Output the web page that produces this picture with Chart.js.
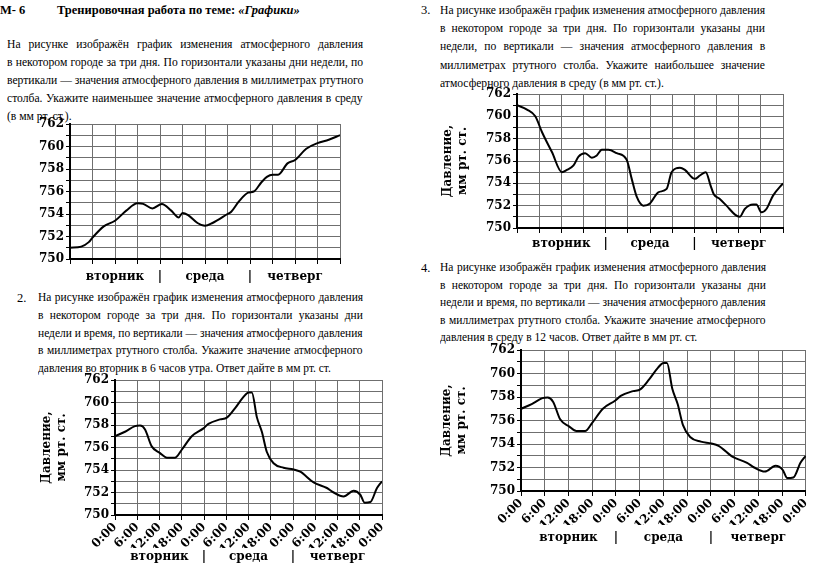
<!DOCTYPE html>
<html>
<head>
<meta charset="utf-8">
<script src="https://cdn.jsdelivr.net/npm/chart.js@4/dist/chart.umd.min.js"></script>
<style>
  body { margin: 0; width: 816px; height: 565px; position: relative; overflow: hidden; background: #fff; color: #000; font-family: 'Liberation Serif', serif; }
  .hdr { position: absolute; top: 3px; font-size: 12.5px; font-weight: bold; line-height: 14px; }
  .num { position: absolute; font-size: 12.5px; line-height: 18px; }
  .par { position: absolute; font-size: 12.5px; }
  .par div { white-space: nowrap; width: max-content; transform-origin: 0 0; }
  canvas { position: absolute; }
</style>
</head>
<body>

<div class="hdr" style="left:0">М- 6</div>
<div class="hdr" style="left:57px">Тренировочная работа по теме: <i>«Графики»</i></div>

<div class="par" style="left:7px; top:35px; width:356px; line-height:18px">
  <div>На рисунке изображён график изменения атмосферного давления</div>
  <div>в некотором городе за три дня. По горизонтали указаны дни недели, по</div>
  <div>вертикали — значения атмосферного давления в миллиметрах ртутного</div>
  <div>столба. Укажите наименьшее значение атмосферного давления в среду</div>
  <div>(в мм рт. ст.).</div>
</div>

<div class="num" style="left:17px; top:289px">2.</div>
<div class="par" style="left:38px; top:289px; width:325px; line-height:17.8px">
  <div>На рисунке изображён график изменения атмосферного давления</div>
  <div>в некотором городе за три дня. По горизонтали указаны дни</div>
  <div>недели и время, по вертикали — значения атмосферного давления</div>
  <div>в миллиметрах ртутного столба. Укажите значение атмосферного</div>
  <div>давления во вторник в 6 часов утра. Ответ дайте в мм рт. ст.</div>
</div>

<div class="num" style="left:421px; top:1px">3.</div>
<div class="par" style="left:440px; top:1px; width:325px; line-height:18.2px">
  <div>На рисунке изображён график изменения атмосферного давления</div>
  <div>в некотором городе за три дня. По горизонтали указаны дни</div>
  <div>недели, по вертикали — значения атмосферного давления в</div>
  <div>миллиметрах ртутного столба. Укажите наибольшее значение</div>
  <div>атмосферного давления в среду (в мм рт. ст.).</div>
</div>

<div class="num" style="left:421px; top:259px">4.</div>
<div class="par" style="left:440px; top:259px; width:326px; line-height:17.6px">
  <div>На рисунке изображён график изменения атмосферного давления</div>
  <div>в некотором городе за три дня. По горизонтали указаны дни</div>
  <div>недели и время, по вертикали — значения атмосферного давления</div>
  <div>в миллиметрах ртутного столба. Укажите значение атмосферного</div>
  <div>давления в среду в 12 часов. Ответ дайте в мм рт. ст.</div>
</div>

<canvas id="chart1" width="352" height="180" style="left:0; top:112px"></canvas>
<canvas id="chart2" width="365" height="197" style="left:30px; top:368px"></canvas>
<canvas id="chart3" width="376" height="174" style="left:420px; top:82px"></canvas>
<canvas id="chart4" width="386" height="227" style="left:430px; top:338px"></canvas>

<script>
// hours counted from Tuesday 0:00, pressure in mm Hg
const hours1 = [0, 3, 5, 6, 9, 12, 15, 18, 19.5, 22, 24.5, 27, 29, 30, 31.5, 34, 36, 38, 42, 43, 45, 47.5, 49, 51, 52.5, 54, 55.5, 58, 60, 63, 66, 69, 72];
const pressure1 = [751.0, 751.1, 751.5, 751.9, 752.9, 753.4, 754.3, 754.95, 754.9, 754.5, 754.9, 754.3, 753.7, 754.1, 753.9, 753.2, 752.95, 753.2, 754.0, 754.2, 755.1, 755.9, 756.0, 756.8, 757.3, 757.5, 757.5, 758.5, 758.8, 759.8, 760.3, 760.6, 761.0];

// tasks 2 and 4 use the same graph
const hours2 = [0, 2.7, 5.4, 6.75, 8.1, 9.9, 12.15, 14, 16.2, 18, 20.7, 23.85, 25.2, 28.35, 30.15, 32.4, 34.65, 36, 36.9, 38.25, 39.6, 40.95, 42.75, 45.45, 48.15, 49.95, 53.55, 57.15, 58.95, 61.65, 64.35, 66.15, 67.3, 68.85, 70.65, 72];
const pressure2 = [757.0, 757.4, 757.9, 757.95, 757.6, 756.1, 755.5, 755.1, 755.1, 755.8, 757.0, 757.7, 758.1, 758.5, 758.65, 759.5, 760.5, 760.9, 760.9, 758.7, 757.4, 755.6, 754.6, 754.2, 754.05, 753.85, 752.9, 752.4, 752.0, 751.65, 752.15, 751.8, 751.1, 751.15, 752.4, 753.0];

const hours3 = [0, 2.7, 4.95, 6.75, 9.45, 12.15, 13.5, 15.3, 16.65, 18.45, 20.25, 21.6, 22.95, 24.75, 27, 29.7, 31.05, 32.4, 34.2, 36, 38.25, 40.5, 41.85, 44.1, 45.45, 48.15, 49.5, 51.1, 52.4, 53.3, 54.9, 56.7, 59, 60.3, 61.65, 63.9, 64.8, 66.15, 67.5, 69.3, 72];
const pressure3 = [761.0, 760.6, 760.0, 758.6, 756.8, 755.0, 755.2, 755.6, 756.4, 756.7, 756.3, 756.5, 757.0, 757.0, 756.7, 756.1, 754.4, 752.8, 752.0, 752.2, 753.2, 753.5, 755.0, 755.4, 755.2, 754.4, 754.7, 755.0, 753.8, 753.0, 752.6, 752.0, 751.2, 751.0, 751.7, 752.1, 752.1, 751.4, 751.7, 752.9, 754.0];

const dayTicks = [12, 24, 36, 48, 60];
const dayLabels = ['вторник', '|', 'среда', '|', 'четверг'];
const yTitle = ['Давление,', 'мм рт. ст.'];

const labelFont = { family: 'DejaVu Serif', weight: 'bold', size: 12 };
const gridColor = '#6f6f6f';

// squeeze each paragraph a little and stretch word gaps so every full line is justified
document.querySelectorAll('.par').forEach(par => {
    const target = par.clientWidth;
    const lines = Array.from(par.children);
    const full = lines.slice(0, -1);
    let scale = 1;
    full.forEach(l => { scale = Math.min(scale, target / l.offsetWidth); });
    full.forEach(l => {
        const gaps = (l.textContent.match(/ /g) || []).length;
        const extra = target / scale - l.offsetWidth;
        if (gaps) l.style.wordSpacing = (extra / gaps) + 'px';
    });
    lines.forEach(l => { l.style.transform = 'scaleX(' + scale + ')'; });
});

function pressureChart(canvasId, hours, values, o) {
    const ctx = document.getElementById(canvasId).getContext('2d');
    const points = hours.map((h, i) => ({ x: h, y: values[i] }));

    return new Chart(ctx, {
        type: 'line',
        data: {
            datasets: [{
                data: points,
                borderColor: '#000',
                borderWidth: 2,
                pointRadius: 0,
                fill: false,
                cubicInterpolationMode: 'monotone'
            }]
        },
        options: {
            responsive: false,
            animation: false,
            layout: { padding: { top: 12, right: o.padRight, left: 0, bottom: 0 } },
            plugins: { legend: { display: false }, tooltip: { enabled: false } },
            scales: {
                x: {
                    type: 'linear', min: 0, max: 72, weight: 0,
                    grid: { color: gridColor, tickLength: 5, tickColor: '#000' },
                    border: { color: '#000', width: 2 },
                    ticks: {
                        display: o.timeLabels, stepSize: 6, autoSkip: false,
                        minRotation: 45, maxRotation: 45, padding: 0,
                        font: labelFont, color: '#000',
                        callback: v => (v % 24) + ':00'
                    },
                    afterFit: s => { s.height = o.timeHeight; }
                },
                day: {
                    type: 'linear', axis: 'x', position: 'bottom', min: 0, max: 72, weight: 1,
                    grid: { display: false, drawTicks: false },
                    border: { display: false },
                    afterBuildTicks: s => { s.ticks = dayTicks.map(v => ({ value: v })); },
                    ticks: {
                        autoSkip: false, maxRotation: 0, padding: o.dayPad,
                        font: labelFont, color: '#000',
                        callback: v => dayLabels[dayTicks.indexOf(v)]
                    },
                    afterFit: s => { s.height = o.dayHeight; }
                },
                y: {
                    min: 750, max: 762,
                    grid: { color: gridColor, tickLength: 4, tickColor: '#000' },
                    border: { color: '#000', width: 2 },
                    ticks: {
                        stepSize: 1, autoSkip: false, padding: 2,
                        font: labelFont, color: '#000',
                        callback: v => (v % 2 === 0 ? String(v) : '')
                    },
                    title: {
                        display: o.yTitle, text: yTitle, color: '#000',
                        font: { family: 'DejaVu Serif', weight: 'bold', size: 12, lineHeight: 1.2 },
                        padding: { top: o.titlePad, bottom: 0 }
                    },
                    afterFit: s => { s.width = o.yWidth; }
                }
            }
        }
    });
}

pressureChart('chart1', hours1, pressure1, {
    padRight: 12, yWidth: 70, timeLabels: false, timeHeight: 6, dayPad: 5, dayHeight: 27, yTitle: false, titlePad: 0
});
pressureChart('chart2', hours2, pressure2, {
    padRight: 13, yWidth: 85, timeLabels: true, timeHeight: 33, dayPad: 2, dayHeight: 17, yTitle: true, titlePad: 10
});
pressureChart('chart3', hours3, pressure3, {
    padRight: 13, yWidth: 97, timeLabels: false, timeHeight: 6, dayPad: 3, dayHeight: 22, yTitle: true, titlePad: 21
});
pressureChart('chart4', hours2, pressure2, {
    padRight: 9, yWidth: 91, timeLabels: true, timeHeight: 34, dayPad: 6, dayHeight: 40, yTitle: true, titlePad: 10
});
</script>
</body>
</html>
